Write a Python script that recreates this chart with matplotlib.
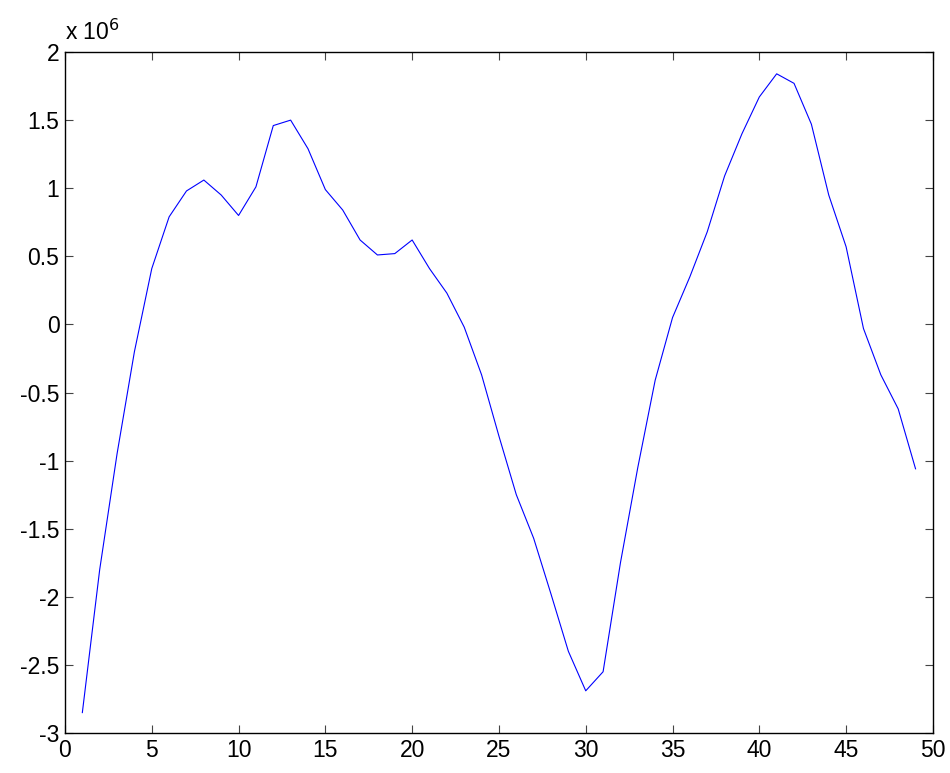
import numpy as np
import matplotlib
matplotlib.use("Agg")
import matplotlib.pyplot as plt
from matplotlib.ticker import FuncFormatter

plt.rcParams["font.family"] = ["Liberation Sans", "DejaVu Sans"]
plt.rcParams["axes.unicode_minus"] = False

# sample index and signal value (units of 1e6)
x_idx = list(range(1, 50))
signal_e6 = [
    -2.85, -1.80, -0.95, -0.20, 0.41, 0.79, 0.98, 1.06, 0.95, 0.80,
    1.01, 1.46, 1.50, 1.29, 0.99, 0.84, 0.62, 0.51, 0.52, 0.62,
    0.41, 0.23, -0.02, -0.37, -0.82, -1.25, -1.57, -1.98, -2.40, -2.69,
    -2.55, -1.75, -1.05, -0.41, 0.05, 0.35, 0.68, 1.09, 1.40, 1.67,
    1.84, 1.77, 1.47, 0.95, 0.57, -0.03, -0.37, -0.62, -1.06,
]

fig = plt.figure(figsize=(9.5, 7.73), dpi=100)
ax = fig.add_axes([0.0684, 0.0517, 0.9136, 0.881])

ax.plot(x_idx, signal_e6, color="#0000ff", linewidth=0.8)

ax.set_xlim(0, 50)
ax.set_ylim(-3, 2)
ax.set_xticks(np.arange(0, 51, 5))
ax.set_yticks(np.arange(-3, 2.01, 0.5))
ax.yaxis.set_major_formatter(FuncFormatter(lambda v, p: "%g" % v))
ax.tick_params(direction="in", top=True, right=True, length=6,
               width=0.8, color="#444444", labelsize=16.5, pad=4)
for s in ax.spines.values():
    s.set_linewidth(1.0)

ax.text(0.0, 1.01, r"x 10$^{6}$", transform=ax.transAxes,
        fontsize=16.5, ha="left", va="bottom")

fig.savefig("out.png", dpi=100)
